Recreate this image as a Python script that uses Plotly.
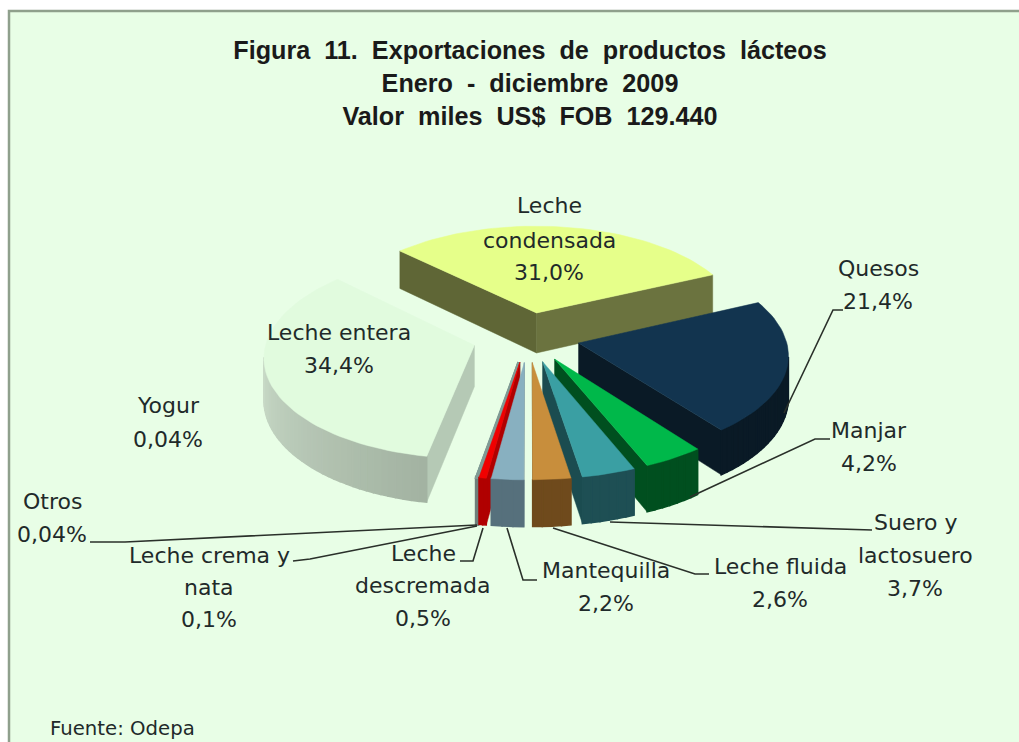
import math
import plotly.graph_objects as go

# ---- data (clockwise from the first slice) ----
categories = ["Leche condensada", "Quesos", "Manjar", "Suero y lactosuero", "Leche fluida",
              "Mantequilla", "Leche descremada", "Leche crema y nata", "Otros", "Yogur", "Leche entera"]
values = [31.0, 21.4, 4.2, 3.7, 2.6, 2.2, 0.5, 0.1, 0.04, 0.04, 34.4]
percent_text = ["31,0%", "21,4%", "4,2%", "3,7%", "2,6%", "2,2%", "0,5%", "0,1%", "0,04%", "0,04%", "34,4%"]

# ---- styles ----
top_colors = ["#E6FF8A", "#12344F", "#00B84A", "#3A9FA3", "#C88E3C", "#88B0C0", "#F00000", "#7F9A94", "#7F9A94", "#DDEBDD", "#E1FBDE"]
wall0_colors = ["#5F6636", "#0A1A26", "#004F1F", "#1B4C50", "#6F4A1C", "#56707C", "#B00000", "#6F7F7A", "#6F7F7A", "#C0D0C0", "#B5C9B5"]
wall1_colors = ["#6B733F", "#0A1A26", "#004F1F", "#1B4C50", "#6F4A1C", "#56707C", "#B00000", "#6F7F7A", "#6F7F7A", "#C0D0C0", "#B5C9B5"]
rim_start = ["#6B733F", "#0A1A26", "#004F1F", "#1E4F54", "#6F4A1C", "#56707C", "#B00000", "#6F7F7A", "#6F7F7A", "#C0D0C0", "#E2F4E0"]
rim_end = ["#5F6636", "#0A1A26", "#004F1F", "#1E4F54", "#6F4A1C", "#56707C", "#B00000", "#6F7F7A", "#6F7F7A", "#C0D0C0", "#A3B3A2"]
edge_width = [0.5, 0.5, 0.5, 0.5, 0.5, 0.5, 0.5, 3, 1, 0, 0.5]
explosion = [0.25, 0.25, 0.25, 0.25, 0.25, 0.25, 0.25, 0.25, 0.25, 0.25, 0.27]

BG = "#E8FEE6"
TEXT = "#1F2A2A"
START = -46.0
CX, CY, A, B, P, H = 528, 337, 207, 100, 0.1, 41
NB = "\u00a0"

def project(u, v):
    w = 1 + P * v
    return CX + A * u / w, CY - B * v / w, H / w

def hexmix(c0, c1, t):
    a = [int(c0[i:i + 2], 16) for i in (1, 3, 5)]
    b = [int(c1[i:i + 2], 16) for i in (1, 3, 5)]
    return "#%02X%02X%02X" % tuple(round(x + (y - x) * t) for x, y in zip(a, b))

def poly(xs, ys, color, lw=0.5):
    return go.Scatter(x=xs + xs[:1], y=ys + ys[:1], mode="lines", fill="toself", fillcolor=color,
                      line=dict(color=color, width=lw), hoverinfo="skip", showlegend=False)

def quad(p, q, color, lw=0.5):
    return poly([p[0], q[0], q[0], p[0]], [p[1], q[1], q[1] + q[2], p[1] + p[2]], color, lw)

total = sum(values)
slices = []
ang = START
for i, val in enumerate(values):
    a0, a1 = ang, ang + 360 * val / total
    ang = a1
    mid = math.radians((a0 + a1) / 2)
    ou, ov = explosion[i] * math.sin(mid), explosion[i] * math.cos(mid)
    n = max(2, int((a1 - a0) / 2))
    angles = [math.radians(a0 + (a1 - a0) * k / n) for k in range(n + 1)]
    apex = project(ou, ov)
    rim = [project(ou + math.sin(t), ov + math.cos(t)) for t in angles]
    slices.append((math.cos(mid), i, apex, rim))

fig = go.Figure()
for _, i, apex, rim in sorted(slices, key=lambda s: -s[0]):
    lw = edge_width[i]
    if apex[0] > rim[0][0]:
        fig.add_trace(quad(apex, rim[0], wall0_colors[i], lw))
    if rim[-1][0] > apex[0]:
        fig.add_trace(quad(rim[-1], apex, wall1_colors[i], lw))
    for k in range(len(rim) - 1):
        if rim[k + 1][0] < rim[k][0]:
            fig.add_trace(quad(rim[k], rim[k + 1], hexmix(rim_end[i], rim_start[i], k / max(1, len(rim) - 2)),
                               max(lw, 1.5) if lw else 0))
    fig.add_trace(go.Scatter(x=[apex[0]] + [r[0] for r in rim] + [apex[0]],
                             y=[apex[1]] + [r[1] for r in rim] + [apex[1]],
                             mode="lines", fill="toself", fillcolor=top_colors[i],
                             line=dict(color=top_colors[i], width=lw), name=categories[i],
                             text=percent_text[i], hoverinfo="name+text", showlegend=False))

# ---- leader lines ----
leaders = [
    [(784, 413), (833, 310), (843, 310)],
    [(690, 497), (815, 439), (830, 439)],
    [(610, 522), (860, 530), (872, 530)],
    [(553, 528), (695, 574), (709, 574)],
    [(507, 528), (523, 580), (537, 580)],
    [(483, 528), (473, 561), (460, 561)],
    [(477, 526), (310, 559), (293, 561)],
    [(477, 525), (125, 542), (90, 542)],
]
for line in leaders:
    fig.add_trace(go.Scatter(x=[p[0] for p in line], y=[p[1] for p in line], mode="lines",
                             line=dict(color="#2A302A", width=1.6), hoverinfo="skip", showlegend=False))

# ---- labels: one entry per text line ----
label_lines = [
    ("Leche", 549, 205), ("condensada", 549, 240), (percent_text[0], 549, 272),
    ("Quesos", 878, 268), (percent_text[1], 878, 301),
    ("Manjar", 869, 430), (percent_text[2], 869, 463),
    ("Suero y", 915, 522), ("lactosuero", 915, 555), (percent_text[3], 915, 588),
    ("Leche fluida", 780, 566), (percent_text[4], 780, 599),
    ("Mantequilla", 606, 570), (percent_text[5], 606, 603),
    ("Leche", 423, 553), ("descremada", 423, 585), (percent_text[6], 423, 618),
    ("Leche crema y", 209, 555), ("nata", 209, 587), (percent_text[7], 209, 619),
    ("Otros", 52, 501), (percent_text[8], 52, 534),
    ("Yogur", 168, 405), (percent_text[9], 168, 439),
    ("Leche entera", 339, 332), (percent_text[10], 339, 365),
]
annotations = [dict(x=x, y=y, text=t, showarrow=False, xref="x", yref="y", xanchor="center", yanchor="middle",
                    font=dict(family="DejaVu Sans", size=22, color=TEXT)) for t, x, y in label_lines]
annotations.append(dict(x=122, y=728, text="Fuente: Odepa", showarrow=False, xref="x", yref="y",
                        xanchor="center", yanchor="middle", font=dict(family="DejaVu Sans", size=19.7, color=TEXT)))

title_text = "<br>".join([
    f"Figura{NB}{NB}11.{NB}{NB}Exportaciones{NB}{NB}de{NB}{NB}productos{NB}{NB}lácteos",
    f"Enero{NB}{NB}-{NB}{NB}diciembre{NB}{NB}2009",
    f"Valor{NB}{NB}miles{NB}{NB}US${NB}{NB}FOB{NB}{NB}129.440",
])
fig.update_layout(
    width=1019, height=742, margin=dict(l=0, r=0, t=0, b=0),
    paper_bgcolor="white", plot_bgcolor="white", showlegend=False,
    title=dict(text=title_text, x=530 / 1019, xanchor="center", y=1 - 59 / 742, yanchor="top",
               font=dict(family="Liberation Sans", size=25.2, color="#1A1A1A", weight="bold")),
    xaxis=dict(range=[0, 1019], visible=False, fixedrange=True),
    yaxis=dict(range=[742, 0], visible=False, fixedrange=True),
    annotations=annotations,
    shapes=[dict(type="rect", xref="x", yref="y", x0=9, y0=11, x1=1040, y1=770, layer="below",
                 fillcolor=BG, line=dict(color="#8FA08C", width=2.5))],
)
fig.write_html("out.html", post_script="document.body.style.margin='0';document.body.style.overflow='hidden';",
               config={"displayModeBar": False})
